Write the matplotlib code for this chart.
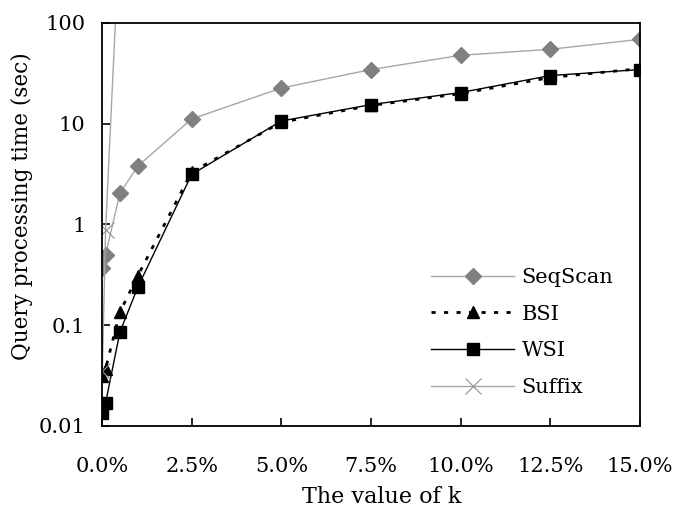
import numpy as np
import matplotlib
matplotlib.use("Agg")
import matplotlib.pyplot as plt
from matplotlib.ticker import FuncFormatter, FixedLocator, NullLocator

# k values (percent)
k_vals = [0.01, 0.1, 0.5, 1.0, 2.5, 5.0, 7.5, 10.0, 12.5, 15.0]

# query processing time (sec)
seqscan = [0.37, 0.50, 2.04, 3.79, 11.1, 22.5, 34.3, 47.5, 54.5, 68.4]
bsi = [0.031, 0.037, 0.135, 0.31, 3.3, 10.3, 15.1, 19.8, 28.6, 35.0]
wsi = [0.0136, 0.017, 0.0855, 0.239, 3.13, 10.6, 15.4, 20.3, 29.9, 34.3]
suffix_k = [0.01, 0.1, 0.5]
suffix = [0.035, 0.88, 900]

x_ticks = [0, 2.5, 5, 7.5, 10, 12.5, 15]
y_ticks = [0.01, 0.1, 1, 10, 100]
y_ticklabels = ['0.01', '0.1', '1', '10', '100']

plt.rcParams['font.family'] = 'DejaVu Serif'
plt.rcParams['font.size'] = 15

fig = plt.figure(figsize=(6.77, 5.08), dpi=100)
ax = fig.add_axes([102/677, 1-426/508, 538/677, 403.3/508])

ax.plot(k_vals, seqscan, color='#a6a6a6', lw=1.0, marker='D', ms=8,
        mfc='#808080', mec='#808080', label='SeqScan')
ax.plot(k_vals, bsi, color='black', lw=2.0, ls=(0, (1.5, 3)), marker='^', ms=8.5,
        mfc='black', mec='black', label='BSI')
ax.plot(k_vals, wsi, color='black', lw=1.0, marker='s', ms=8,
        mfc='black', mec='black', label='WSI')
ax.plot(suffix_k, suffix, color='#a6a6a6', lw=1.0, marker='x', ms=12, mew=0.8,
        mfc='#909090', mec='#909090', label='Suffix')

ax.set_yscale('log')
ax.set_ylim(0.01, 100)
ax.set_xlim(0, 15)
ax.yaxis.set_major_locator(FixedLocator(y_ticks))
ax.yaxis.set_minor_locator(NullLocator())
ax.set_yticklabels(y_ticklabels)
ax.set_xticks(x_ticks)
ax.xaxis.set_major_formatter(FuncFormatter(lambda v, p: '%.1f%%' % v))

ax.tick_params(direction='in', length=6, width=1.2, colors='black', labelsize=15)
ax.tick_params(axis='x', pad=22)
ax.tick_params(axis='y', pad=12)
for s in ax.spines.values():
    s.set_linewidth(1.3)

ax.set_xlabel('The value of k', fontsize=16)
ax.set_ylabel('Query processing time (sec)', fontsize=15.5)
ax.xaxis.set_label_coords(0.519, -0.149)
ax.yaxis.set_label_coords(-0.128, 0.545)

ax.legend(loc='upper left', bbox_to_anchor=(431/677, 1-268/508),
          bbox_transform=fig.transFigure, frameon=False, borderpad=0,
          borderaxespad=0, handlelength=4.0, handletextpad=0.35,
          labelspacing=0.85, numpoints=1, fontsize=15)

fig.savefig('out.png', dpi=100)
